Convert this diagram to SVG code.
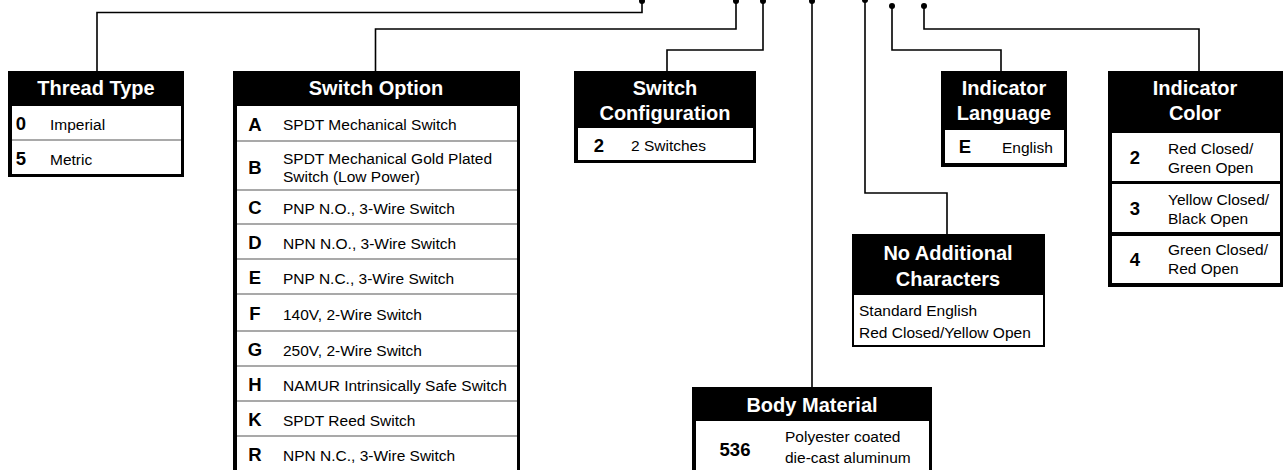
<svg xmlns="http://www.w3.org/2000/svg" width="1283" height="470" viewBox="0 0 1283 470">
<style>
  text { font-family: "Liberation Sans", Arial, sans-serif; }
  .frame { fill: #000; }
  .cell { fill: #fff; }
  .sep { stroke: #555; stroke-width: 1.2; }
  .hdr { fill: #fff; font-weight: bold; font-size: 20px; text-anchor: middle; }
  .code { fill: #000; font-weight: bold; font-size: 18.5px; text-anchor: middle; }
  .txt { fill: #000; font-size: 15.5px; }
  .wire { fill: none; stroke: #000; stroke-width: 1.6; }
  .dot { fill: #000; }
</style>
<rect width="1283" height="470" fill="#fff"/>

<g id="connectors">
  <path class="wire" d="M642,1 V12.5 H97 V71"/>
  <path class="wire" d="M736,1 V29 H375.5 V71"/>
  <path class="wire" d="M763,1 V50 H667 V71"/>
  <path class="wire" d="M812,1 V387"/>
  <path class="wire" d="M865,0 V193 H947 V234"/>
  <path class="wire" d="M892,6 V50 H1001 V71"/>
  <path class="wire" d="M924,6 V29 H1199 V71"/>
  <circle class="dot" cx="642" cy="1" r="3"/>
  <circle class="dot" cx="736" cy="1" r="3"/>
  <circle class="dot" cx="763" cy="1" r="3"/>
  <circle class="dot" cx="812" cy="1" r="3"/>
  <circle class="dot" cx="865" cy="0" r="3"/>
  <circle class="dot" cx="892" cy="6" r="3"/>
  <circle class="dot" cx="924" cy="6" r="3"/>
</g>

<g id="thread-type">
  <rect class="frame" x="8" y="71" width="176" height="106"/>
  <rect class="cell" x="12" y="106" width="169" height="68"/>
  <line class="sep" x1="12" y1="140" x2="181" y2="140"/>
  <text class="hdr" x="96" y="95">Thread Type</text>
  <text class="code" x="21" y="130">0</text>
  <text class="txt" x="50" y="130">Imperial</text>
  <text class="code" x="21" y="165">5</text>
  <text class="txt" x="50" y="165">Metric</text>
</g>

<g id="switch-option">
  <rect class="frame" x="233" y="71" width="287" height="400"/>
  <rect class="cell" x="237" y="106" width="280" height="366"/>
  <line class="sep" x1="237" y1="141" x2="517" y2="141"/>
  <line class="sep" x1="237" y1="190" x2="517" y2="190"/>
  <line class="sep" x1="237" y1="224" x2="517" y2="224"/>
  <line class="sep" x1="237" y1="259" x2="517" y2="259"/>
  <line class="sep" x1="237" y1="294" x2="517" y2="294"/>
  <line class="sep" x1="237" y1="331" x2="517" y2="331"/>
  <line class="sep" x1="237" y1="366" x2="517" y2="366"/>
  <line class="sep" x1="237" y1="401" x2="517" y2="401"/>
  <line class="sep" x1="237" y1="436" x2="517" y2="436"/>
  <text class="hdr" x="376" y="95">Switch Option</text>
  <text class="code" x="255" y="131">A</text>
  <text class="txt" x="283" y="130">SPDT Mechanical Switch</text>
  <text class="code" x="255" y="174">B</text>
  <text class="txt" x="283" y="164">SPDT Mechanical Gold Plated</text>
  <text class="txt" x="283" y="182">Switch (Low Power)</text>
  <text class="code" x="255" y="214">C</text>
  <text class="txt" x="283" y="214">PNP N.O., 3-Wire Switch</text>
  <text class="code" x="255" y="249">D</text>
  <text class="txt" x="283" y="249">NPN N.O., 3-Wire Switch</text>
  <text class="code" x="255" y="284">E</text>
  <text class="txt" x="283" y="284">PNP N.C., 3-Wire Switch</text>
  <text class="code" x="255" y="320">F</text>
  <text class="txt" x="283" y="320">140V, 2-Wire Switch</text>
  <text class="code" x="255" y="356">G</text>
  <text class="txt" x="283" y="356">250V, 2-Wire Switch</text>
  <text class="code" x="255" y="391">H</text>
  <text class="txt" x="283" y="391">NAMUR Intrinsically Safe Switch</text>
  <text class="code" x="255" y="426">K</text>
  <text class="txt" x="283" y="426">SPDT Reed Switch</text>
  <text class="code" x="255" y="461">R</text>
  <text class="txt" x="283" y="461">NPN N.C., 3-Wire Switch</text>
</g>

<g id="switch-configuration">
  <rect class="frame" x="574" y="71" width="182" height="92"/>
  <rect class="cell" x="578" y="128" width="175" height="32"/>
  <text class="hdr" x="665" y="95">Switch</text>
  <text class="hdr" x="665" y="120">Configuration</text>
  <text class="code" x="599" y="152">2</text>
  <text class="txt" x="631" y="151">2 Switches</text>
</g>

<g id="indicator-language">
  <rect class="frame" x="941" y="71" width="126" height="96"/>
  <rect class="cell" x="945" y="130" width="119" height="33"/>
  <text class="hdr" x="1004" y="95">Indicator</text>
  <text class="hdr" x="1004" y="120">Language</text>
  <text class="code" x="965" y="153">E</text>
  <text class="txt" x="1002" y="153">English</text>
</g>

<g id="indicator-color">
  <rect class="frame" x="1108" y="71" width="175" height="216"/>
  <rect class="cell" x="1112" y="133" width="168" height="48"/>
  <rect class="cell" x="1112" y="184" width="168" height="48"/>
  <rect class="cell" x="1112" y="236" width="168" height="47"/>
  <text class="hdr" x="1195" y="95">Indicator</text>
  <text class="hdr" x="1195" y="120">Color</text>
  <text class="code" x="1135" y="164">2</text>
  <text class="txt" x="1168" y="154">Red Closed/</text>
  <text class="txt" x="1168" y="173">Green Open</text>
  <text class="code" x="1135" y="215">3</text>
  <text class="txt" x="1168" y="205">Yellow Closed/</text>
  <text class="txt" x="1168" y="224">Black Open</text>
  <text class="code" x="1135" y="266">4</text>
  <text class="txt" x="1168" y="255">Green Closed/</text>
  <text class="txt" x="1168" y="274">Red Open</text>
</g>

<g id="no-additional-characters">
  <rect class="frame" x="852" y="234" width="193" height="113"/>
  <rect class="cell" x="854" y="295" width="189" height="50"/>
  <text class="hdr" x="948" y="260">No Additional</text>
  <text class="hdr" x="948" y="286">Characters</text>
  <text class="txt" x="859" y="316">Standard English</text>
  <text class="txt" x="859" y="338">Red Closed/Yellow Open</text>
</g>

<g id="body-material">
  <rect class="frame" x="692" y="387" width="240" height="84"/>
  <rect class="cell" x="696" y="421" width="233" height="50"/>
  <text class="hdr" x="812" y="412">Body Material</text>
  <text class="code" x="735" y="456">536</text>
  <text class="txt" x="785" y="442">Polyester coated</text>
  <text class="txt" x="785" y="463">die-cast aluminum</text>
</g>
</svg>
